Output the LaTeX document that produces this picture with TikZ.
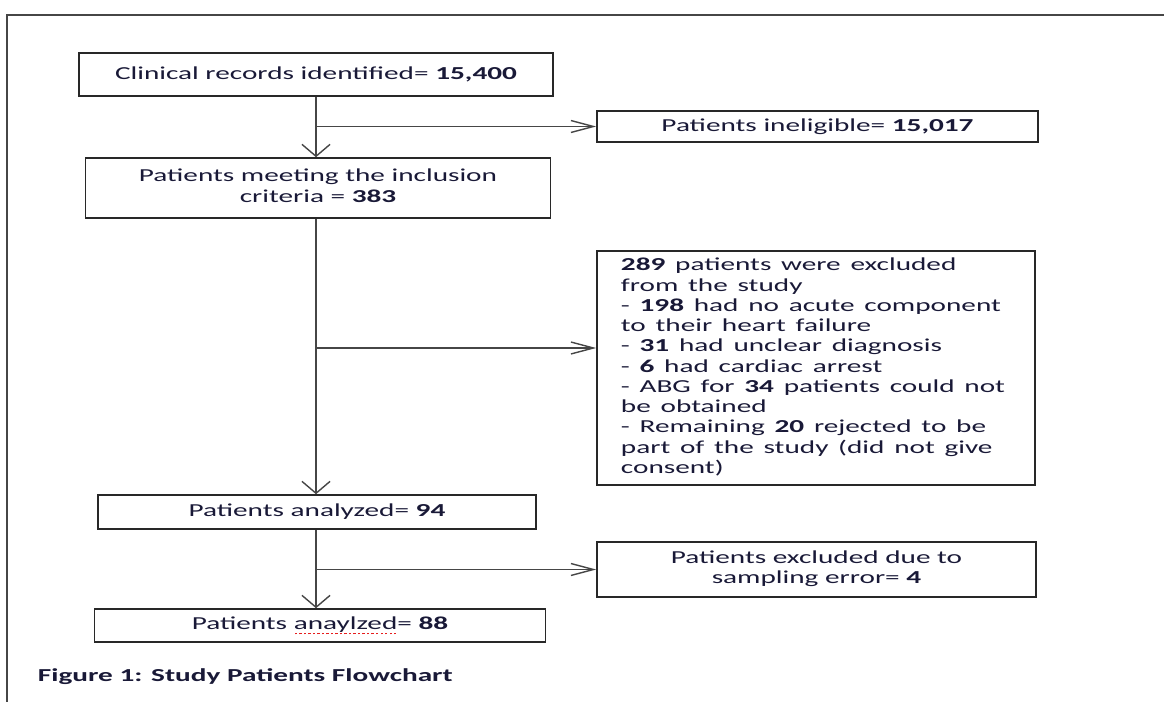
\documentclass[tikz,border=0pt]{standalone}
\usepackage{fontspec}
\setmainfont{Carlito}
\usepackage{graphicx}
\definecolor{inkblue}{RGB}{25, 25, 55}
\definecolor{boxgray}{RGB}{40, 40, 40}
\definecolor{linegray}{RGB}{70, 70, 70}
\definecolor{spellred}{RGB}{230, 30, 30}
\usepackage{tikz}
\usetikzlibrary{arrows.meta, positioning, calc}

% the source figure is stretched sideways
\newcommand{\wide}[1]{\scalebox{1.6}[1]{#1}}
\newsavebox{\spellbox}
\newcommand{\spellerr}[1]{\sbox{\spellbox}{#1}\rlap{\usebox{\spellbox}}%
  \raisebox{-0.6ex}{\hbox to \wd\spellbox{\color{spellred}\xleaders\hbox to 2pt{\hss\rule{1pt}{1pt}\hss}\hfill}}}

\begin{document}
\begin{tikzpicture}[x=0.025cm, y=-0.025cm,
  every node/.style={font=\fontsize{13}{14.4}\selectfont, text=inkblue},
  flowbox/.style={draw=boxgray, line width=1.1pt, inner sep=0pt},
  link/.style={draw=linegray, line width=1pt},
  vlink/.style={link, -{Straight Barb[length=8.5pt, width=20pt]}},
  hlink/.style={link, -{Straight Barb[length=16pt, width=8.5pt]}}]
  \useasboundingbox (0, 0) rectangle (1164, 702);
  \draw[draw=linegray, line width=1.3pt] (7, 702) -- (7, 15) -- (1164, 15);

  % main column
  \node[flowbox, minimum width=11.85cm, minimum height=1.075cm] (b1) at (316, 74.5)
    {\wide{Clinical records identified= \textbf{15,400}}};
  \node[flowbox, minimum width=11.625cm, minimum height=1.5cm] (b3) at (318, 188)
    {\wide{\begin{tabular}{@{}c@{}}Patients meeting the inclusion\\criteria = \textbf{383}\end{tabular}}};
  \node[flowbox, minimum width=10.95cm, minimum height=0.85cm] (b5) at (317, 512)
    {\wide{Patients analyzed= \textbf{94}}};
  \node[flowbox, minimum width=11.275cm, minimum height=0.825cm] (b7) at (320, 625.5)
    {\wide{Patients \spellerr{anaylzed}= \textbf{88}}};

  % side column
  \node[flowbox, minimum width=11.025cm, minimum height=0.775cm] (b2) at (817.5, 126.5)
    {\wide{Patients ineligible= \textbf{15,017}}};
  \node[flowbox, text width=9.75cm, inner xsep=0.6cm, align=left, minimum height=5.85cm] (b4) at (816, 368)
    {\wide{\begin{tabular}{@{}l@{}}
      \textbf{289} patients were excluded\\
      from the study\\
      - \textbf{198} had no acute component\\
      to their heart failure\\
      - \textbf{31} had unclear diagnosis\\
      - \textbf{6} had cardiac arrest\\
      - ABG for \textbf{34} patients could not\\
      be obtained\\
      - Remaining \textbf{20} rejected to be\\
      part of the study (did not give\\
      consent)
    \end{tabular}}};
  \node[flowbox, minimum width=10.975cm, minimum height=1.375cm] (b6) at (816.5, 569.5)
    {\wide{\begin{tabular}{@{}c@{}}Patients excluded due to\\sampling error= \textbf{4}\end{tabular}}};

  \node[anchor=west, font=\fontsize{13}{14.4}\selectfont\bfseries] (cap) at (33, 677)
    {\wide{Figure 1: Study Patients Flowchart}};

  % connectors
  \coordinate (j2) at (b1.south |- 0, 348);
  \draw[vlink] (b1.south) -- (b1.south |- b3.north);
  \draw[hlink] (b1.south |- b2.west) -- (b2.west);
  \draw[vlink] (b1.south |- b3.south) -- (b1.south |- b5.north);
  \draw[hlink] (j2) -- (j2 -| b4.west);
  \draw[vlink] (b1.south |- b5.south) -- (b1.south |- b7.north);
  \draw[hlink] (b1.south |- b6.west) -- (b6.west);
\end{tikzpicture}
\end{document}
